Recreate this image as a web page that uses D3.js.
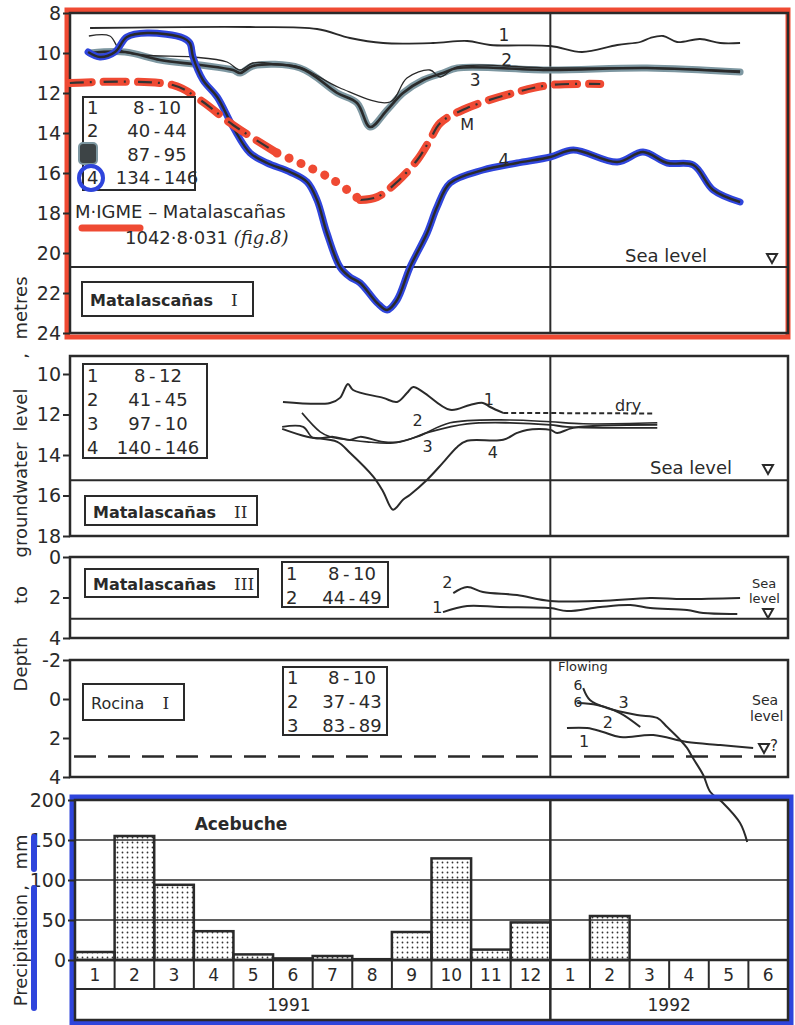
<!DOCTYPE html>
<html>
<head>
<meta charset="utf-8">
<title>Groundwater levels and precipitation</title>
<script src="https://cdn.jsdelivr.net/npm/d3@7"></script>
<style>
  body { margin: 0; background: #fff; }
</style>
</head>
<body>
<script>
// ---- data (month index from Jan 1991 = 0, depth in metres) ----
var months = ["1","2","3","4","5","6","7","8","9","10","11","12","1","2","3","4","5","6"];
var years = ["1991", "1992"];
var rainfall = [10, 155, 94, 36, 7, 2, 5, 1, 35, 127, 13, 47, 0, 55, 0, 0, 0, 0];
var rainTicks = [0, 50, 100, 150, 200];

// Matalascanas I
var m1Ticks = [8, 10, 12, 14, 16, 18, 20, 22, 24];
var m1Legend = ["8-10", "40-44", "87-95", "134-146"];
var m1Sea = 20.7;
var m1Well1 = [[0.38,8.75],[4.42,8.7],[6.11,8.8],[6.94,9.25],[7.78,9.5],[9.04,9.5],[9.9,9.4],[10.48,9.6],[12.0,9.65],[12.8,9.95],[13.69,9.6],[14.27,9.45],[14.52,9.25],[14.85,9.15],[15.2,9.45],[15.78,9.3],[16.29,9.5],[16.79,9.5]];
var m1Well2 = [[0.35,9.15],[0.88,9.15],[1.14,9.85],[1.72,10.1],[2.98,10.2],[3.84,10.45],[4.17,10.85],[4.49,10.5],[5.1,10.55],[5.68,10.7],[6.69,11.75],[7.95,12.45],[8.38,11.25],[8.96,10.85],[9.22,11.2],[9.65,10.7],[12.0,10.75],[14.44,10.75],[16.79,10.9]];
var m1Well3 = [[0.38,10.0],[1.26,9.95],[2.15,10.35],[3.16,10.6],[3.99,10.85],[4.17,11.0],[4.49,10.65],[5.68,10.75],[6.62,12.0],[7.12,12.5],[7.45,13.7],[7.88,12.85],[8.28,12.0],[8.79,11.35],[9.29,11.0],[9.65,10.75],[12.0,10.85],[14.44,10.75],[16.79,10.95]];
var m1Well4 = [[0.33,9.95],[0.63,10.2],[1.01,9.95],[1.31,9.2],[1.82,9.0],[2.73,9.25],[2.9,9.5],[2.98,10.2],[3.23,11.35],[3.59,12.2],[3.99,13.7],[4.42,15.0],[4.85,15.5],[5.43,15.95],[5.86,16.45],[6.11,17.35],[6.36,19.0],[6.69,20.7],[6.94,21.2],[7.2,21.5],[7.63,22.5],[7.88,22.85],[8.13,22.35],[8.46,20.7],[8.89,19.0],[9.14,17.7],[9.47,16.5],[10.3,15.85],[11.16,15.5],[12.0,15.2],[12.58,14.85],[13.69,15.45],[14.34,14.95],[14.95,15.5],[15.61,15.6],[16.11,16.85],[16.79,17.45]];
var mIgmeA = [[-0.13,11.5],[2.47,11.6],[3.16,12.35],[3.99,13.6],[5.1,15.0]];
var mIgmeDots = [[5.1,15.0],[5.68,15.5],[6.52,16.35],[7.2,17.35]];
var mIgmeB = [[7.2,17.35],[7.63,17.2],[8.13,16.45],[8.64,15.35],[8.96,14.35],[9.22,13.5],[9.9,12.75],[11.16,11.95],[12.0,11.6],[13.26,11.55]];

// Matalascanas II
var m2Ticks = [10, 12, 14, 16, 18];
var m2Legend = ["8-12", "41-45", "97-10", "140-146"];
var m2Sea = 15.25;
var m2Well1 = [[5.25,11.38],[6.44,11.43],[6.69,11.18],[6.89,10.49],[7.02,10.79],[7.78,11.18],[8.13,11.38],[8.38,10.94],[8.54,10.64],[8.79,10.89],[9.47,11.77],[9.97,11.53],[10.3,11.43],[10.48,11.63],[10.81,11.92]];
var m2Dry = [[10.81,11.92],[14.6,11.95]];
var m2Well2 = [[5.73,11.92],[6.19,12.86],[6.44,13.1],[7.37,13.35],[8.03,13.4],[8.64,13.1],[9.47,12.41],[10.98,12.27],[12.0,12.36],[12.83,12.46],[14.7,12.41]];
var m2Well3 = [[5.23,12.61],[5.76,12.61],[6.01,13.15],[6.52,13.1],[6.94,13.25],[7.2,13.1],[7.78,13.35],[8.21,13.35],[8.96,12.86],[9.9,12.46],[10.98,12.41],[12.0,12.51],[12.42,12.61],[14.7,12.66]];
var m2Well4 = [[5.23,12.71],[5.86,13.1],[6.62,13.35],[6.94,13.89],[7.53,15.07],[7.78,15.81],[8.03,16.7],[8.28,16.21],[8.46,15.96],[8.89,15.22],[9.29,14.38],[9.65,13.6],[9.9,13.3],[10.81,13.25],[11.16,12.91],[11.41,12.76],[12.0,12.76],[12.17,12.91],[12.58,12.66],[14.7,12.51]];

// Matalascanas III
var m3Ticks = [0, 2, 4];
var m3Legend = ["8-10", "44-49"];
var m3Sea = 3.05;
var m3Well1 = [[9.29,2.72],[9.9,2.42],[10.73,2.47],[12.0,2.52],[12.42,2.67],[13.26,2.47],[14.02,2.37],[14.52,2.52],[15.45,2.62],[15.86,2.77],[16.72,2.81]];
var m3Well2 = [[9.55,1.78],[9.9,1.48],[10.3,1.73],[11.16,1.88],[12.0,2.17],[13.26,2.17],[14.52,2.02],[15.35,2.07],[16.79,2.02]];

// Rocina I
var r1Ticks = [-2, 0, 2, 4];
var r1Legend = ["8-10", "37-43", "83-89"];
var r1Sea = 2.95;
var r1Well1 = [[12.42,1.49],[12.93,1.49],[13.33,1.69],[13.76,1.95],[14.6,1.85],[15.45,2.21],[16.29,2.36],[17.12,2.51]];
var r1Well2 = [[12.68,0.21],[13.18,0.31],[13.76,0.72],[14.27,1.44]];
var r1Well3 = [[12.83,-0.56],[13.0,0.05],[13.43,0.46],[14.19,0.82],[14.7,0.97],[14.95,1.44],[15.28,2.1],[15.45,2.51],[15.6,3.03],[15.86,3.9],[16.04,4.77],[16.36,5.33],[16.79,6.36],[16.97,7.33]];

// ---- drawing ----
var F = '"DejaVu Sans", sans-serif';
var ink = "#2a2a2a";
var red = "#ef4a33";
var blue = "#2f45dc";
var L = 70, R = 788;

var svg = d3.select("body").append("svg").attr("width", 795).attr("height", 1025);
var x = d3.scaleLinear().domain([0, 18]).range([75, 788]);

function lineFor(y) {
  return d3.line().x(function(d){ return x(d[0]); }).y(function(d){ return y(d[1]); })
    .curve(d3.curveCatmullRom.alpha(0.5));
}

function txt(px, py, s, size, opts) {
  opts = opts || {};
  return svg.append("text").attr("x", px).attr("y", py).text(s)
    .attr("font-family", opts.family || F).attr("font-size", size)
    .attr("font-weight", opts.weight || "normal")
    .attr("text-anchor", opts.anchor || "start")
    .attr("dominant-baseline", opts.baseline || "auto")
    .attr("fill", opts.fill || ink);
}

function frame(top, bottom, y, ticks, sea) {
  svg.append("rect").attr("x", L).attr("y", top).attr("width", R - L).attr("height", bottom - top)
    .attr("fill", "none").attr("stroke", ink).attr("stroke-width", 2.5);
  svg.append("line").attr("x1", x(12)).attr("x2", x(12)).attr("y1", top).attr("y2", bottom)
    .attr("stroke", ink).attr("stroke-width", 2);
  if (sea != null) {
    svg.append("line").attr("x1", L).attr("x2", R).attr("y1", y(sea)).attr("y2", y(sea))
      .attr("stroke", ink).attr("stroke-width", 2);
  }
  var g = svg.append("g").attr("transform", "translate(" + L + ",0)")
    .call(d3.axisLeft(y).tickValues(ticks).tickSize(7).tickPadding(2).tickFormat(function(d){ return String(d); }));
  g.select(".domain").remove();
  g.selectAll("line").attr("stroke", ink).attr("stroke-width", 2);
  g.selectAll("text").attr("font-size", 19).attr("font-family", F).attr("fill", ink);
}

function legend(x0, y0, w, h, first, gap, mid, rows) {
  svg.append("rect").attr("x", x0).attr("y", y0).attr("width", w).attr("height", h)
    .attr("fill", "#fff").attr("stroke", ink).attr("stroke-width", 2);
  rows.forEach(function(r, i) {
    var cy = y0 + first + i * gap;
    txt(x0 + 4, cy, String(i + 1), 18, {baseline: "central"});
    txt(x0 + mid, cy, r.replace("-", "\u2009-\u2009"), 18, {baseline: "central", anchor: "middle"});
  });
}

function nameBox(x0, y0, w, h, name, roman, bold) {
  svg.append("rect").attr("x", x0).attr("y", y0).attr("width", w).attr("height", h)
    .attr("fill", "#fff").attr("stroke", ink).attr("stroke-width", 2);
  var t = txt(x0 + 8, y0 + h / 2 + 1, "", 16, {baseline: "central", weight: bold ? "bold" : "normal"});
  t.append("tspan").text(name);
  t.append("tspan").attr("dx", 18).attr("font-family", '"DejaVu Serif", serif').attr("font-weight", "normal")
    .attr("font-size", 17).text(roman);
}

function tri(cx, cy) {
  svg.append("path").attr("d", "M" + (cx - 5) + "," + (cy - 4) + "L" + (cx + 5) + "," + (cy - 4) + "L" + cx + "," + (cy + 5) + "Z")
    .attr("fill", "none").attr("stroke", ink).attr("stroke-width", 2);
}

function well(path, y, w, halo, haloW) {
  if (halo) {
    svg.append("path").datum(path).attr("d", lineFor(y)).attr("fill", "none")
      .attr("stroke", halo).attr("stroke-width", haloW).attr("stroke-linecap", "round").attr("stroke-linejoin", "round");
  }
  svg.append("path").datum(path).attr("d", lineFor(y)).attr("fill", "none")
    .attr("stroke", ink).attr("stroke-width", w).attr("stroke-linejoin", "round");
}

// ----- panel 1: Matalascanas I -----
var y1 = d3.scaleLinear().domain([8, 24]).range([13, 333]);
svg.append("rect").attr("x", 67).attr("y", 10).attr("width", 721).attr("height", 327)
  .attr("fill", "none").attr("stroke", red).attr("stroke-width", 5);
frame(13, 333, y1, m1Ticks, m1Sea);
well(m1Well1, y1, 1.8);
well(m1Well3, y1, 2.6, "#7d97a1", 7);
well(m1Well2, y1, 1.3);
well(m1Well4, y1, 2.4, blue, 7);

// M IGME observation well
var mLine = lineFor(y1);
[mIgmeA, mIgmeB].forEach(function(seg) {
  svg.append("path").datum(seg).attr("d", mLine).attr("fill", "none").attr("stroke", red)
    .attr("stroke-width", 8).attr("stroke-linecap", "round").attr("stroke-dasharray", "22,12");
  svg.append("path").datum(seg).attr("d", mLine).attr("fill", "none").attr("stroke", "#333")
    .attr("stroke-width", 2.2).attr("stroke-dasharray", "14,6,2,12");
});
svg.append("path").datum(mIgmeDots).attr("d", mLine).attr("fill", "none").attr("stroke", red)
  .attr("stroke-width", 9).attr("stroke-linecap", "round").attr("stroke-dasharray", "0.1,13");

legend(83, 97, 112, 93, 10, 23.5, 74, m1Legend);
svg.append("rect").attr("x", 79).attr("y", 143).attr("width", 18).attr("height", 21).attr("rx", 4)
  .attr("fill", "#3d4446").attr("stroke", "#7d97a1").attr("stroke-width", 2);
svg.append("circle").attr("cx", 91).attr("cy", 178).attr("r", 12).attr("fill", "none")
  .attr("stroke", blue).attr("stroke-width", 4);
svg.append("line").attr("x1", 82).attr("x2", 140).attr("y1", 228).attr("y2", 228)
  .attr("stroke", red).attr("stroke-width", 7).attr("stroke-linecap", "round");
txt(75, 211, "M\u00b7IGME \u2013 Matalascañas", 18, {baseline: "central"});
var fig = txt(125, 237, "1042\u00b78\u00b7031 ", 18, {baseline: "central"});
fig.append("tspan").attr("font-style", "italic").attr("font-family", '"DejaVu Serif", serif').text("(fig.8)");

txt(x(10.83), y1(9.1), "1", 17, {anchor: "middle", baseline: "central"});
txt(x(10.9), y1(10.35), "2", 17, {anchor: "middle", baseline: "central"});
txt(x(10.1), y1(11.35), "3", 17, {anchor: "middle", baseline: "central"});
txt(x(9.9), y1(13.55), "M", 16, {anchor: "middle", baseline: "central"});
txt(x(10.83), y1(15.35), "4", 17, {anchor: "middle", baseline: "central"});
txt(625, 262, "Sea level", 18);
tri(772, 258);
nameBox(82, 282, 171, 34, "Matalascañas", "I", true);

// ----- panel 2: Matalascanas II -----
var y2 = d3.scaleLinear().domain([10, 18]).range([374, 536]);
frame(356, 536, y2, m2Ticks, m2Sea);
well(m2Well1, y2, 2);
svg.append("path").datum(m2Dry).attr("d", lineFor(y2)).attr("fill", "none").attr("stroke", ink)
  .attr("stroke-width", 2).attr("stroke-dasharray", "5,3");
well(m2Well2, y2, 1.6);
well(m2Well3, y2, 1.8);
well(m2Well4, y2, 2);
legend(83, 364, 124, 94, 11, 24.3, 75, m2Legend);
nameBox(85, 496, 172, 29, "Matalascañas", "II", true);
txt(x(10.45), y2(11.25), "1", 16, {anchor: "middle", baseline: "central"});
txt(x(8.65), y2(12.3), "2", 16, {anchor: "middle", baseline: "central"});
txt(x(8.9), y2(13.6), "3", 16, {anchor: "middle", baseline: "central"});
txt(x(10.55), y2(13.9), "4", 16, {anchor: "middle", baseline: "central"});
txt(615, 411, "dry", 16);
txt(650, 474, "Sea level", 18);
tri(768, 469);

// ----- panel 3: Matalascanas III -----
var y3 = d3.scaleLinear().domain([0, 4]).range([557, 638]);
frame(557, 638, y3, m3Ticks, m3Sea);
well(m3Well2, y3, 2);
well(m3Well1, y3, 2);
nameBox(85, 569, 173, 28, "Matalascañas", "III", true);
legend(282, 562, 106, 45, 11, 24, 70, m3Legend);
txt(x(9.4), y3(1.25), "2", 16, {anchor: "middle", baseline: "central"});
txt(x(9.15), y3(2.5), "1", 16, {anchor: "middle", baseline: "central"});
txt(752, 588, "Sea", 13);
txt(749, 603, "level", 13);
tri(768, 613);

// ----- panel 4: Rocina I -----
var y4 = d3.scaleLinear().domain([-2, 4]).range([660, 777]);
frame(660, 777, y4, r1Ticks, null);
svg.append("line").attr("x1", L + 4).attr("x2", R).attr("y1", y4(r1Sea)).attr("y2", y4(r1Sea))
  .attr("stroke", ink).attr("stroke-width", 2.5).attr("stroke-dasharray", "22,12");
well(r1Well1, y4, 2);
well(r1Well2, y4, 2);
well(r1Well3, y4, 2);
nameBox(83, 684, 101, 36, "Rocina", "I", false);
legend(283, 667, 104, 68, 10, 24, 69, r1Legend);
txt(558, 671, "Flowing", 13);
txt(x(12.7), 685, "6", 14, {anchor: "middle", baseline: "central"});
txt(x(12.7), 702, "6", 14, {anchor: "middle", baseline: "central"});
txt(x(13.85), y4(0.2), "3", 16, {anchor: "middle", baseline: "central"});
txt(x(13.45), y4(1.2), "2", 16, {anchor: "middle", baseline: "central"});
txt(x(12.85), y4(2.2), "1", 16, {anchor: "middle", baseline: "central"});
txt(752, 705, "Sea", 14);
txt(750, 721, "level", 14);
tri(764, 748);
txt(770, 751, "?", 15);

// ----- panel 5: precipitation at Acebuche -----
var yr = d3.scaleLinear().domain([0, 200]).range([960, 800]);
var defs = svg.append("defs");
var pat = defs.append("pattern").attr("id", "dots").attr("patternUnits", "userSpaceOnUse")
  .attr("width", 5).attr("height", 5);
pat.append("circle").attr("cx", 2.5).attr("cy", 2.5).attr("r", 0.9).attr("fill", "#333");

svg.append("rect").attr("x", 72).attr("y", 797).attr("width", 719).attr("height", 226)
  .attr("fill", "none").attr("stroke", blue).attr("stroke-width", 5);

[50, 100, 150].forEach(function(v) {
  svg.append("line").attr("x1", x(0)).attr("x2", R).attr("y1", yr(v)).attr("y2", yr(v))
    .attr("stroke", ink).attr("stroke-width", 1.6);
});

var rainRows = rainfall.map(function(v, i){ return {month: i, mm: v}; })
  .filter(function(d){ return d.mm > 0; });
svg.selectAll(".bar").data(rainRows).join("rect").attr("class", "bar")
  .attr("x", function(d){ return x(d.month); })
  .attr("y", function(d){ return yr(d.mm); })
  .attr("width", x(1) - x(0))
  .attr("height", function(d){ return yr(0) - yr(d.mm); })
  .attr("fill", "url(#dots)").attr("stroke", ink).attr("stroke-width", 2.5);

svg.append("rect").attr("x", x(0)).attr("y", 800).attr("width", R - x(0)).attr("height", 220)
  .attr("fill", "none").attr("stroke", ink).attr("stroke-width", 2.5);
svg.append("line").attr("x1", x(0)).attr("x2", R).attr("y1", yr(0)).attr("y2", yr(0))
  .attr("stroke", ink).attr("stroke-width", 2.5);
svg.append("line").attr("x1", x(0)).attr("x2", R).attr("y1", 989).attr("y2", 989)
  .attr("stroke", ink).attr("stroke-width", 2);
months.forEach(function(m, i) {
  if (i > 0) {
    svg.append("line").attr("x1", x(i)).attr("x2", x(i)).attr("y1", yr(0)).attr("y2", 989)
      .attr("stroke", ink).attr("stroke-width", 2);
  }
  txt(x(i + 0.5), 975, m, 17, {anchor: "middle", baseline: "central"});
});
svg.append("line").attr("x1", x(12)).attr("x2", x(12)).attr("y1", 800).attr("y2", 1020)
  .attr("stroke", ink).attr("stroke-width", 2.5);
var yearAt = [5.4, 15];
years.forEach(function(yv, i) {
  txt(x(yearAt[i]), 1005, yv, 17, {anchor: "middle", baseline: "central"});
});
var ga = svg.append("g").attr("transform", "translate(" + x(0) + ",0)")
  .call(d3.axisLeft(yr).tickValues(rainTicks).tickSize(7).tickPadding(2));
ga.select(".domain").remove();
ga.selectAll("line").attr("stroke", ink).attr("stroke-width", 2);
ga.selectAll("text").attr("font-size", 19).attr("font-family", F).attr("fill", ink);
txt(241, 824, "Acebuche", 17, {anchor: "middle", baseline: "central", weight: "bold"});

// ----- axis titles -----
function vtext(cy, s) {
  svg.append("text").attr("transform", "translate(27," + cy + ") rotate(-90)")
    .attr("text-anchor", "middle").attr("font-family", F).attr("font-size", 18)
    .attr("fill", ink).text(s);
}
vtext(308, "metres");
vtext(356, ",");
vtext(410, "level");
vtext(500, "groundwater");
vtext(595, "to");
vtext(664, "Depth");
svg.append("line").attr("x1", 34).attr("x2", 34).attr("y1", 837).attr("y2", 869)
  .attr("stroke", blue).attr("stroke-width", 6).attr("stroke-linecap", "round");
svg.append("line").attr("x1", 34).attr("x2", 34).attr("y1", 888).attr("y2", 1008)
  .attr("stroke", blue).attr("stroke-width", 6).attr("stroke-linecap", "round");
vtext(852, "mm");
vtext(888, ",");
vtext(950, "Precipitation");
</script>
</body>
</html>
